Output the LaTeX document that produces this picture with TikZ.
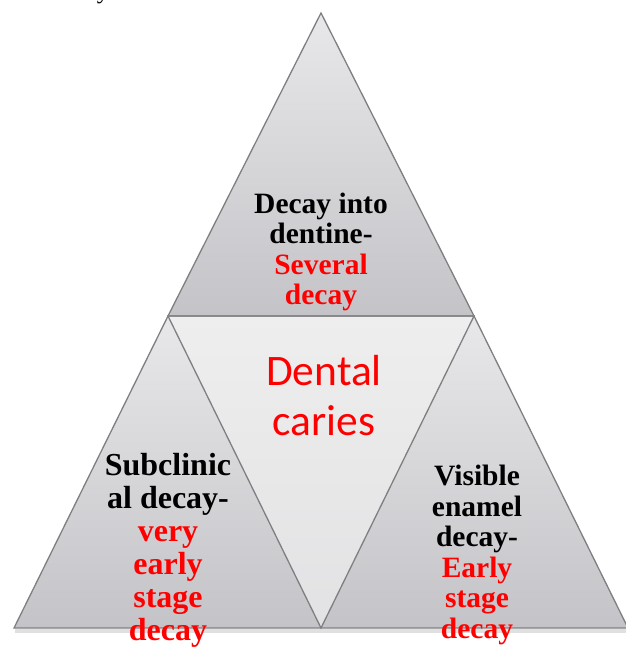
\documentclass[tikz,border=0pt]{standalone}
\usepackage{fontspec}
\setmainfont{Liberation Serif}
\newfontfamily\calib{Carlito}
\definecolor{edge}{HTML}{7F7F82}
\definecolor{topc}{HTML}{E8E8EA}
\definecolor{botc}{HTML}{C4C4C8}
\definecolor{midtop}{HTML}{EEEEEE}
\definecolor{midbot}{HTML}{E2E2E4}
\definecolor{txtred}{HTML}{FF0000}
\begin{document}
\begin{tikzpicture}[x=1pt,y=-1pt,
  tri/.style={top color=topc,bottom color=botc},
  outl/.style={draw=edge,line width=1.3pt,line join=miter},
  lab/.style={align=center,font=\fontsize{29.5}{30.5}\selectfont\bfseries,text=black,inner sep=0pt},
  labl/.style={align=center,font=\fontsize{32}{33}\selectfont\bfseries,text=black,inner sep=0pt},
  big/.style={align=center,font=\calib\fontsize{43.5}{50}\selectfont,text=txtred,inner sep=0pt}]
\useasboundingbox (0,0) rectangle (625,648);
% coordinates
\coordinate (A) at (321,13);
\coordinate (B) at (168,316);
\coordinate (C) at (474,316);
\coordinate (D) at (14,628);
\coordinate (E) at (321,628);
\coordinate (F) at (628,628);
% shadows
\fill[black!12] (15,629) -- (628,629) -- (628,633) -- (15,633) -- cycle;
% shapes
\shade[tri] (A) -- (B) -- (C) -- cycle;
\shade[top color=midtop,bottom color=midbot] (B) -- (C) -- (E) -- cycle;
\shade[tri] (B) -- (D) -- (E) -- cycle;
\shade[tri] (C) -- (E) -- (F) -- cycle;
\draw[outl] (A) -- (B) -- (C) -- cycle;
\draw[outl] (B) -- (C) -- (E) -- cycle;
\draw[outl] (B) -- (D) -- (E);
\draw[outl] (C) -- (F) -- (E);
% fragment at top
\begin{scope}
\clip (0,0) rectangle (625,648);
\node[font=\fontsize{25}{30}\selectfont,inner sep=0pt,anchor=base] (frag) at (103,-2) {y};
\end{scope}
% labels
\node[lab] (ttop) at (321,252) {Decay into\\dentine-\\\textcolor{txtred}{Several}\\\textcolor{txtred}{decay}};
\node[big] (tmid) at (324,396) {Dental\\caries};
\node[labl] (tleft) at (168,550) {Subclinic\\al decay-\\\textcolor{txtred}{very}\\\textcolor{txtred}{early}\\\textcolor{txtred}{stage}\\\textcolor{txtred}{decay}};
\node[lab] (tright) at (477,555) {Visible\\enamel\\decay-\\\textcolor{txtred}{Early}\\\textcolor{txtred}{stage}\\\textcolor{txtred}{decay}};
\end{tikzpicture}
\end{document}
